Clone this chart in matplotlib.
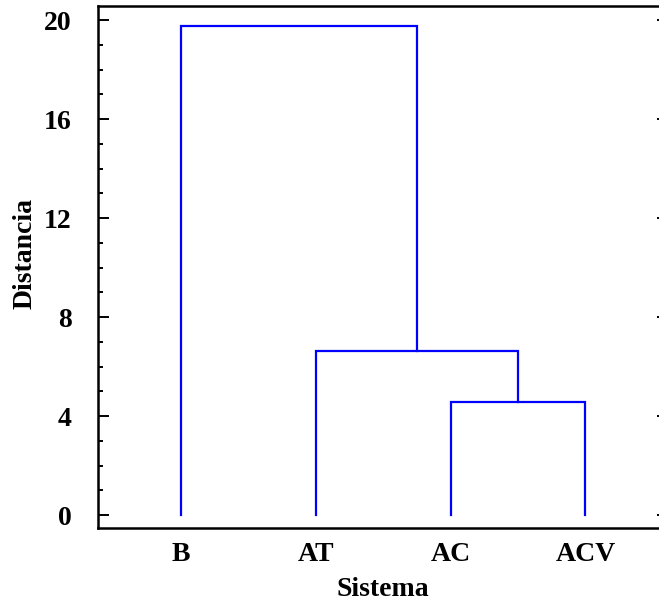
import matplotlib
matplotlib.use("Agg")
import matplotlib.pyplot as plt
from matplotlib.ticker import MultipleLocator

plt.rcParams['font.family'] = ['Liberation Serif', 'DejaVu Serif']
plt.rcParams['font.weight'] = 'bold'

# leaves in display order and merge steps (left, right, height)
leaves = ['B', 'AT', 'AC', 'ACV']
merges = [('AC', 'ACV', 4.55),
          ('AT', 'AC+ACV', 6.63),
          ('B', 'AT+AC+ACV', 19.77)]

fig = plt.figure(figsize=(6.59, 6.02), dpi=100)
ax = fig.add_axes([0.1487, 0.1229, 0.865, 0.867])

pos = {name: i + 1 for i, name in enumerate(leaves)}
hgt = {name: 0.0 for name in leaves}
for a, b, h in merges:
    xa, xb = pos[a], pos[b]
    ax.plot([xa, xa, xb, xb], [hgt[a], h, h, hgt[b]],
            color='#0000ff', lw=1.6, solid_joinstyle='miter')
    key = a + '+' + b
    pos[key] = (xa + xb) / 2
    hgt[key] = h

ax.set_xlim(0.384, 4.613)
ax.set_ylim(-0.525, 20.57)
ax.set_xticks(range(1, len(leaves) + 1))
ax.set_xticklabels(leaves)
ax.yaxis.set_major_locator(MultipleLocator(4))
ax.yaxis.set_minor_locator(MultipleLocator(1))

ax.tick_params(axis='y', which='major', direction='in', length=7.7, width=1.4,
               right=True, labelsize=20, pad=19)
ax.tick_params(axis='y', which='minor', direction='in', length=3.6, width=1.4,
               right=False)
ax.tick_params(axis='x', which='both', length=0, labelsize=20, pad=10)
ax.spines['right'].set_visible(False)
for s in ['left', 'bottom', 'top']:
    ax.spines[s].set_linewidth(1.8)

ax.set_xlabel('Sistema', fontsize=20, fontweight='bold', labelpad=7)
ax.set_ylabel('Distancia', fontsize=20, fontweight='bold')
ax.yaxis.set_label_coords(-0.106, 0.525)

fig.savefig('out.png', dpi=100)
